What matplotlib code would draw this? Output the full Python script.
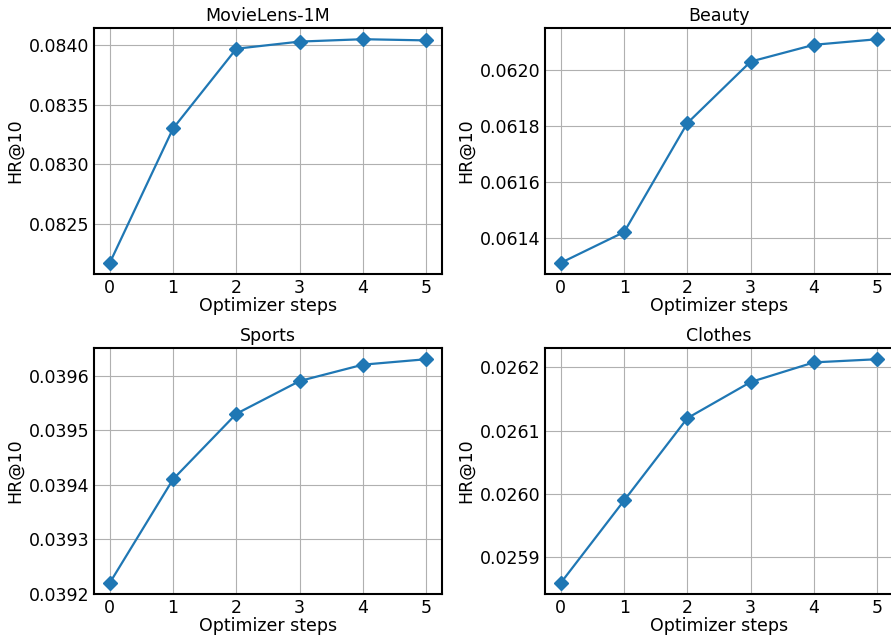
import matplotlib
matplotlib.use("Agg")
import matplotlib.pyplot as plt

steps = [0, 1, 2, 3, 4, 5]

titles = ["MovieLens-1M", "Beauty", "Sports", "Clothes"]

hr_movielens = [0.08217, 0.08330, 0.08397, 0.08403, 0.08405, 0.08404]
hr_beauty = [0.06131, 0.06142, 0.06181, 0.06203, 0.06209, 0.06211]
hr_sports = [0.03922, 0.03941, 0.03953, 0.03959, 0.03962, 0.03963]
hr_clothes = [0.025860, 0.025990, 0.026120, 0.026177, 0.026208, 0.026213]

yticks = [
    [0.0825, 0.0830, 0.0835, 0.0840],
    [0.0614, 0.0616, 0.0618, 0.0620],
    [0.0392, 0.0393, 0.0394, 0.0395, 0.0396],
    [0.0259, 0.0260, 0.0261, 0.0262],
]

series = [hr_movielens, hr_beauty, hr_sports, hr_clothes]

plt.rcParams["font.family"] = "DejaVu Sans"
plt.rcParams["font.size"] = 12.5

fig, axes = plt.subplots(2, 2, figsize=(8.91, 6.37), dpi=100)
fig.subplots_adjust(left=0.1055, right=1.0023, bottom=0.0675, top=0.956,
                    wspace=0.296, hspace=0.301)

for ax, title, ys, yt in zip(axes.flat, titles, series, yticks):
    ax.plot(steps, ys, color="#1f77b4", marker="D", markersize=7, linewidth=1.6)
    ax.set_title(title, fontsize=12.5, pad=5)
    ax.set_xlabel("Optimizer steps", fontsize=12.5, labelpad=0)
    ax.set_ylabel("HR@10", fontsize=12.5, labelpad=3)
    ax.set_xticks(steps)
    ax.set_yticks(yt)
    ax.yaxis.set_major_formatter(plt.FormatStrFormatter("%.4f"))
    ax.grid(True, color="#b0b0b0", linewidth=0.8)
    ax.set_axisbelow(True)
    ax.tick_params(length=0, labelsize=12.5, pad=3.5)
    for sp in ax.spines.values():
        sp.set_color("black")
        sp.set_linewidth(1.5)

fig.savefig("out.png", dpi=100)
